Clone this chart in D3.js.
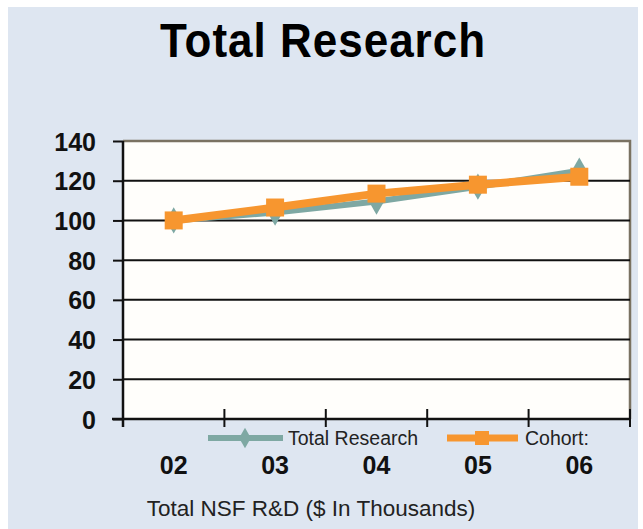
<!DOCTYPE html>
<html><head><meta charset="utf-8">
<script src="https://cdn.jsdelivr.net/npm/d3@7"></script>
<style>html,body{margin:0;padding:0;background:#fff;}svg{display:block;}</style>
</head><body>
<script>
const categories = ["02","03","04","05","06"];
const totalResearch = [100, 104, 109.5, 117, 125];
const cohort = [100, 106.5, 113.5, 118, 122];
const yTicks = [0,20,40,60,80,100,120,140];
const seriesNames = ["Total Research","Cohort:"];
const title = "Total Research";
const xTitle = "Total NSF R&D ($ In Thousands)";

const W=643,H=529;
const FONT="Liberation Sans, Arial, sans-serif";
const svg=d3.select("body").append("svg").attr("width",W).attr("height",H);
svg.append("rect").attr("x",8).attr("y",7).attr("width",630).attr("height",H-7).attr("fill","#dee6f1");

const x=d3.scaleBand().domain(categories).range([123,630]);
const y=d3.scaleLinear().domain([0,140]).range([419,141]);

// plot area
svg.append("rect").attr("x",123).attr("y",141).attr("width",630-123).attr("height",419-141)
  .attr("fill","#fffefb");
svg.append("path").attr("d",`M123,${y(140)}H630V419`).attr("fill","none").attr("stroke","#7a7262").attr("stroke-width",2.5);

// gridlines
svg.append("g").selectAll("line").data(yTicks.filter(v=>v>0&&v<140)).join("line")
  .attr("x1",123).attr("x2",630).attr("y1",d=>y(d)).attr("y2",d=>y(d))
  .attr("stroke","#111").attr("stroke-width",2);

// y axis
const ya=svg.append("g").attr("transform","translate(123,0)")
  .call(d3.axisLeft(y).tickValues(yTicks).tickSize(10).tickPadding(17));
ya.select(".domain").attr("stroke","#111").attr("stroke-width",2.5).attr("d","M0,141V427");
ya.selectAll(".tick line").attr("stroke","#111").attr("stroke-width",2);
ya.selectAll(".tick text").attr("font-family",FONT).attr("font-weight","bold")
  .attr("font-size",25).attr("fill","#111").attr("dy","0.36em");

// x axis line and ticks
svg.append("line").attr("x1",112).attr("x2",630).attr("y1",419).attr("y2",419).attr("stroke","#111").attr("stroke-width",2.5);
const bounds=categories.map(c=>x(c)).concat([x(categories[categories.length-1])+x.bandwidth()]);
svg.append("g").selectAll("line").data(bounds).join("line")
  .attr("x1",d=>d).attr("x2",d=>d).attr("y1",409).attr("y2",427).attr("stroke","#111").attr("stroke-width",2);

// x labels
svg.append("g").selectAll("text").data(categories).join("text")
  .attr("x",d=>x(d)+x.bandwidth()/2).attr("y",474).attr("text-anchor","middle")
  .attr("font-family",FONT).attr("font-weight","bold").attr("font-size",25).attr("fill","#111")
  .text(d=>d);

// lines
const line=d3.line().x((d,i)=>x(categories[i])+x.bandwidth()/2).y(d=>y(d));
const teal="#7ea8a3", orange="#f7962f";
svg.append("path").datum(totalResearch).attr("d",line).attr("fill","none").attr("stroke",teal).attr("stroke-width",6);
svg.append("g").selectAll("path").data(totalResearch).join("path")
  .attr("transform",(d,i)=>`translate(${x(categories[i])+x.bandwidth()/2},${y(d)})`)
  .attr("d",d3.symbol(d3.symbolDiamond,200)).attr("fill",teal);
svg.append("path").datum(cohort).attr("d",line).attr("fill","none").attr("stroke",orange).attr("stroke-width",8);
svg.append("g").selectAll("rect").data(cohort).join("rect")
  .attr("x",(d,i)=>x(categories[i])+x.bandwidth()/2-9).attr("y",d=>y(d)-9)
  .attr("width",18).attr("height",18).attr("fill",orange);

// legend
const lg=svg.append("g");
lg.append("line").attr("x1",208).attr("x2",283).attr("y1",438).attr("y2",438).attr("stroke",teal).attr("stroke-width",6);
lg.append("path").attr("transform","translate(245,438)").attr("d",d3.symbol(d3.symbolDiamond,120)).attr("fill",teal);
lg.append("text").attr("x",288).attr("y",445).attr("font-family",FONT).attr("font-size",19.5).attr("fill","#222").text(seriesNames[0]);
lg.append("line").attr("x1",447).attr("x2",518).attr("y1",438).attr("y2",438).attr("stroke",orange).attr("stroke-width",7);
lg.append("rect").attr("x",475).attr("y",431).attr("width",14).attr("height",14).attr("fill",orange);
lg.append("text").attr("x",525).attr("y",445).attr("font-family",FONT).attr("font-size",19.5).attr("fill","#222").text(seriesNames[1]);

// titles
svg.append("text").attr("transform","translate(323,57) scale(1,1.08)").attr("text-anchor","middle")
  .attr("font-family",FONT).attr("font-weight","bold").attr("font-size",44)
  .attr("letter-spacing",1).attr("fill","#000").text(title);
svg.append("text").attr("x",311).attr("y",516).attr("text-anchor","middle")
  .attr("font-family",FONT).attr("font-size",22.5).attr("fill","#222").text(xTitle);
</script>
</body></html>
